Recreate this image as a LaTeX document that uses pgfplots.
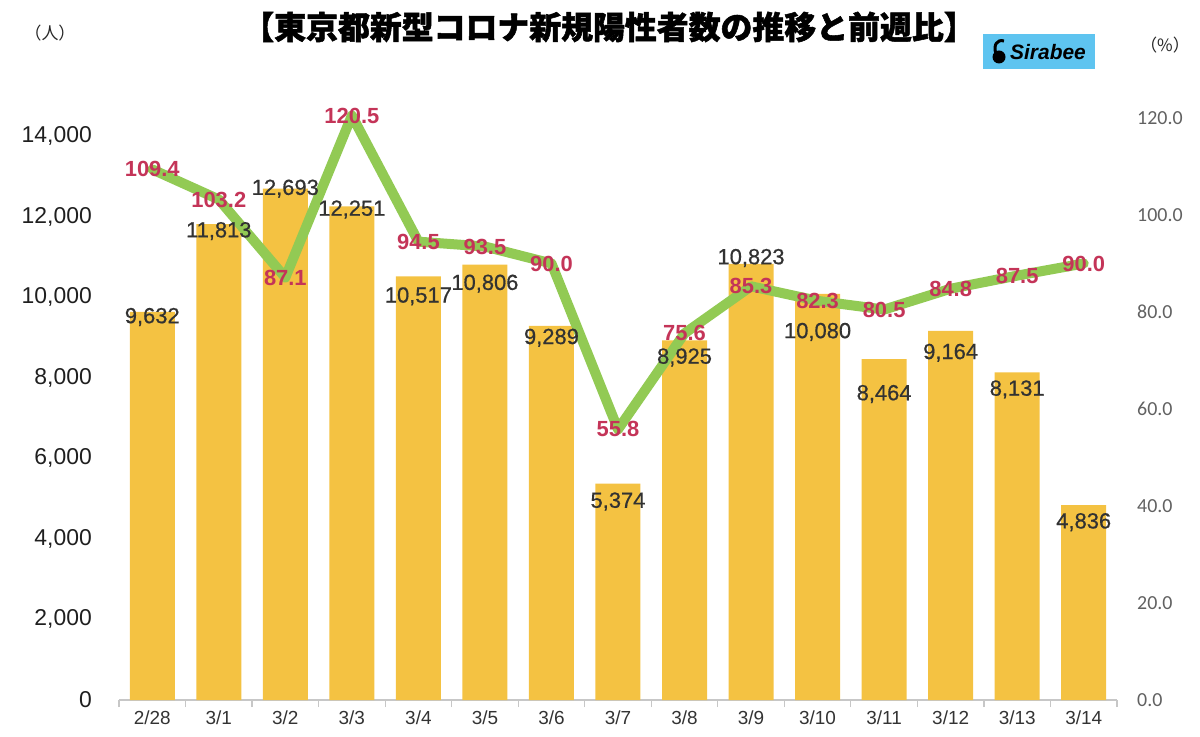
\documentclass[border=0pt]{standalone}
\usepackage{fontspec}
\setmainfont{Liberation Sans}
\newfontfamily\cjk{Noto Sans CJK JP}[BoldFeatures={FakeBold=1.6}]
\newfontfamily\carlito{Carlito}
\newfontfamily\lblfont{Liberation Sans}[FakeBold=0.6]
\usepackage{pgfplots}
\pgfplotsset{compat=1.18}
\usepackage{pgfplotstable}
\definecolor{barc}{RGB}{244,194,66}
\definecolor{linec}{RGB}{146,202,84}
\definecolor{pctc}{RGB}{196,52,88}
\definecolor{lblc}{RGB}{50,50,50}
\definecolor{logoc}{RGB}{94,196,240}

\pgfplotstableread{
x y off
0 9632 -5
1 11813 -7
2 12693 0
3 12251 -3
4 10517 -20
5 10806 -19
6 9289 -12
7 5374 -18
8 8925 -17
9 10823 6
10 10080 -38
11 8464 -35
12 9164 -22
13 8131 -17
14 4836 -17
}\casestab

\pgfplotstableread{
x y
0 109.4
1 103.2
2 87.1
3 120.5
4 94.5
5 93.5
6 90.0
7 55.8
8 75.6
9 85.3
10 82.3
11 80.5
12 84.8
13 87.5
14 90.0
}\ratiotab

\pgfplotsset{mybase/.style={scale only axis, width=998bp, height=582bp,
  xmin=-0.5, xmax=14.5, at={(119bp,37bp)}, anchor=south west, clip=false}}

\begin{document}
\begin{tikzpicture}
\path[use as bounding box] (0,0) rectangle (1200bp,737bp);

% bars
\begin{axis}[mybase, ymin=0, ymax=14447,
  scaled y ticks=false,
  axis x line*=bottom, axis y line*=left,
  y axis line style={draw=none},
  x axis line style={-, draw=black!22, line width=1.2bp},
  xtick={0,...,14},
  xticklabels={2/28,3/1,3/2,3/3,3/4,3/5,3/6,3/7,3/8,3/9,3/10,3/11,3/12,3/13,3/14},
  major tick length=0pt,
  minor xtick={-0.5,0.5,...,14.5},
  minor tick length=7bp, tick align=outside,
  minor tick style={draw=black!22, line width=1.2bp},
  ytick={0,2000,...,14000},
  /pgf/number format/1000 sep={,},
  /pgf/number format/assume math mode=true,
  yticklabel style={font=\fontsize{23}{23}\selectfont, text=black!88, inner sep=0pt, anchor=east, xshift=-27bp},
  xticklabel style={font=\fontsize{19}{19}\selectfont, text=black!80, inner sep=0pt, anchor=north, yshift=-11bp},
]
\addplot[ybar, bar width=45bp, fill=barc, draw=none] table[x=x,y=y]{\casestab};
\end{axis}

% line
\begin{axis}[mybase, ymin=0, ymax=120,
  hide x axis,
  axis y line*=right,
  y axis line style={draw=none},
  major tick length=0pt,
  ytick={0,20,...,120},
  /pgf/number format/assume math mode=true,
  yticklabel style={font=\carlito\fontsize{20}{20}\selectfont, text=black!62, inner sep=0pt, anchor=west, xshift=20bp,
    /pgf/number format/fixed, /pgf/number format/fixed zerofill, /pgf/number format/precision=1},
]
\addplot[linec, line width=10bp, line join=round, line cap=round] table[x=x,y=y]{\ratiotab};
\end{axis}

% bar value labels (on top of the line)
\begin{axis}[mybase, ymin=0, ymax=14447, hide axis,
  /pgf/number format/1000 sep={,},
  /pgf/number format/assume math mode=true]
\addplot[draw=none, mark=none,
  point meta=y,
  nodes near coords,
  visualization depends on={\thisrow{off} \as \off},
  every node near coord/.append style={anchor=center, yshift=\off bp,
     font=\lblfont\fontsize{22}{22}\selectfont, text=lblc, inner sep=0pt},
] table[x=x,y=y]{\casestab};
\end{axis}

% percent labels
\begin{axis}[mybase, ymin=0, ymax=120, hide axis]
\addplot[draw=none, mark=none,
  point meta=y,
  nodes near coords={\pgfmathprintnumber[fixed,fixed zerofill,precision=1,assume math mode=true]{\pgfplotspointmeta}},
  every node near coord/.append style={anchor=center, font=\bfseries\fontsize{22}{22}\selectfont, text=pctc, inner sep=0pt},
] table[x=x,y=y]{\ratiotab};
\end{axis}

\node[font=\cjk\bfseries\fontsize{32}{32}\selectfont] at (609bp,710bp) {【東京都新型コロナ新規陽性者数の推移と前週比】};
\node[font=\cjk\fontsize{17}{17}\selectfont, text=black!85] at (50bp,704bp) {（人）};
\node[font=\cjk\fontsize{17}{17}\selectfont, text=black!85] at (1165bp,692bp) {（\%）};

\fill[logoc] (983bp,668bp) rectangle (1095bp,703bp);
\fill[black] (999bp,680bp) circle (6.5bp);
\draw[black, line width=3bp] (996bp,683bp) .. controls (993bp,692bp) and (997bp,698bp) .. (1004bp,696bp);
\node[font=\bfseries\itshape\fontsize{21}{21}\selectfont, anchor=west, inner sep=0pt] at (1010bp,685bp) {Sirabee};
\end{tikzpicture}
\end{document}
